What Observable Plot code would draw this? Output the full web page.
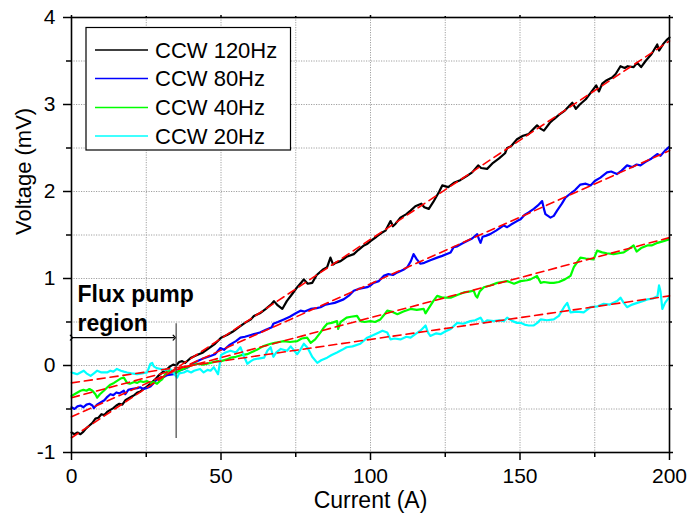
<!DOCTYPE html>
<html>
<head>
<meta charset="utf-8">
<script src="https://cdn.jsdelivr.net/npm/d3@7"></script>
<script src="https://cdn.jsdelivr.net/npm/@observablehq/plot@0.6"></script>
<style>
  html, body { margin: 0; padding: 0; background: #fff; }
  #chart { position: relative; width: 689px; height: 515px; }
</style>
</head>
<body>
<div id="chart"></div>
<script>
// ---------- data ----------
const seriesNames = ["CCW 120Hz", "CCW 80Hz", "CCW 40Hz", "CCW 20Hz"];
const seriesColors = ["#000000", "#0000ff", "#00ff00", "#00ffff"];

const i120 = [0,1,2,3,4,5,6,7,8,9,10,11,12,13,14,15,16,17,18,19,20,21,22,23,24,25,26,27,28,29,30,31,32,33,34,35,36,37,38,39,40,42,44,46,48,50,52,54,56,58,60,61,63,65,67,67.7,69,70.5,72,74,75.5,77,77.7,79,80.5,82,84,85.5,86.6,87.5,88.3,90,92,94.4,96,97.8,99,100,102,103.5,105,106.7,107.5,108.4,110,112,113.4,115,117,118,119.5,121,123,124,126,127.9,130,132.3,134,136,137,139,141,143,145,145.7,147,149,151,152.9,154,155.7,157,158,160,161.3,163,165,167.5,168.7,170,172,174,175.5,176.4,177.5,179,180.8,182,183.6,185,186,188,189.2,190.5,192,194,195.9,196.5,198,199,200];
const v120 = [-0.77,-0.79,-0.77,-0.79,-0.76,-0.72,-0.69,-0.66,-0.61,-0.60,-0.56,-0.57,-0.53,-0.51,-0.49,-0.46,-0.44,-0.45,-0.40,-0.38,-0.36,-0.34,-0.31,-0.30,-0.27,-0.25,-0.22,-0.19,-0.16,-0.12,-0.09,-0.06,-0.04,-0.01,0.01,0.00,0.04,0.05,0.03,0.06,0.09,0.12,0.15,0.20,0.25,0.32,0.35,0.39,0.44,0.49,0.53,0.57,0.60,0.65,0.71,0.74,0.69,0.65,0.74,0.83,0.90,0.96,0.99,0.94,0.95,1.04,1.10,1.13,1.24,1.16,1.18,1.20,1.25,1.28,1.33,1.38,1.40,1.43,1.48,1.52,1.55,1.66,1.60,1.63,1.70,1.74,1.78,1.83,1.86,1.82,1.80,1.88,2.00,2.07,2.05,2.10,2.13,2.18,2.22,2.30,2.27,2.26,2.33,2.38,2.44,2.50,2.52,2.60,2.64,2.66,2.70,2.76,2.72,2.70,2.79,2.83,2.88,2.93,3.02,2.95,3.00,3.06,3.15,3.22,3.15,3.24,3.28,3.31,3.35,3.44,3.42,3.44,3.43,3.48,3.43,3.50,3.58,3.69,3.62,3.70,3.74,3.77];

const i80 = [0,1,2,3,4,5,6,7,7.5,8.5,10,11,12,13,14,15,16,17.5,18,19,20,22,23,24,25,26.4,27.5,28.5,29.8,31,32,34.2,36,37.6,39,40,42,44,46.5,48,49.8,51,53,55,56.5,58,60,61,63,65,67,67.5,69,71,73,75,76.6,78,80,82,83.3,85,86.6,88,89.5,91,93,94.4,96,98.9,100,101,102.8,104.4,106,107.5,109,111,112.3,113.5,114.4,115.5,116.7,118,120,122.3,124,126.8,127.8,129,130.5,132.3,134,135.7,136.3,136.8,137.5,138.5,140,142,144.6,145.7,147,149,150.2,151.5,152.9,154.6,156,157.4,158,158.5,160.2,161.3,162.4,164,165.2,167,168.5,170.2,172,173.6,175,176.9,179.1,180.5,182.4,184,185.8,187.5,189,190.3,192,194,195.9,197,198.5,199.8];
const v80 = [-0.48,-0.50,-0.47,-0.46,-0.48,-0.45,-0.44,-0.46,-0.49,-0.45,-0.42,-0.40,-0.36,-0.33,-0.34,-0.31,-0.32,-0.29,-0.33,-0.28,-0.27,-0.26,-0.25,-0.27,-0.26,-0.24,-0.20,-0.16,-0.14,-0.13,-0.11,-0.10,-0.06,-0.04,-0.02,0.01,0.05,0.08,0.11,0.13,0.20,0.18,0.24,0.28,0.32,0.33,0.35,0.36,0.38,0.41,0.44,0.48,0.50,0.53,0.56,0.60,0.63,0.62,0.65,0.66,0.67,0.70,0.71,0.72,0.74,0.76,0.81,0.86,0.88,0.90,0.92,0.95,0.97,1.03,1.05,1.04,1.07,1.10,1.13,1.20,1.28,1.22,1.17,1.18,1.21,1.24,1.26,1.30,1.36,1.37,1.40,1.43,1.46,1.51,1.45,1.41,1.48,1.49,1.51,1.55,1.61,1.59,1.62,1.66,1.68,1.73,1.76,1.80,1.84,1.89,1.80,1.74,1.70,1.72,1.78,1.86,1.93,1.98,2.02,2.08,2.09,2.07,2.12,2.16,2.22,2.23,2.20,2.24,2.30,2.28,2.31,2.30,2.34,2.38,2.43,2.41,2.47,2.51];

const i40 = [0,1,2,3,4,5,6,7,8,8.6,9.5,10.8,12,13,14.2,15.5,16.4,17.5,18.6,19.5,21,22,23,24,25.3,26.4,27.5,28.6,29.5,30.3,31,32,33,34,35.3,36.5,38,38.7,40,42,44,46.5,48.7,50,52,53.2,55,57,58.8,60,62,64,66.6,68,69.5,71,73,75.5,77,78.8,80,81.5,83.3,84.5,85.5,87,88.8,89.2,90,92,93.5,95.5,96.6,98,100,101.5,103.3,104.5,105.6,107,109,111,113.4,115.5,117.8,118.4,119.5,121,122.3,124,126.8,129,131.2,133,134.5,135.2,135.7,136.5,137.9,140,142.4,144,145.7,148,150.2,152.4,153.5,155.7,156.9,158,160,161.3,163,165,166.9,168,170.2,172,174.6,175.8,177.5,179,181.3,183,184.7,186,188,189,190.5,192.6,194,196,198,199.8];
const v40 = [-0.35,-0.33,-0.31,-0.29,-0.28,-0.29,-0.27,-0.29,-0.33,-0.37,-0.33,-0.29,-0.25,-0.22,-0.20,-0.17,-0.15,-0.14,-0.20,-0.21,-0.19,-0.20,-0.18,-0.19,-0.18,-0.20,-0.19,-0.21,-0.18,-0.16,-0.12,-0.07,-0.06,-0.08,-0.08,-0.05,-0.03,-0.02,0.00,0.02,0.01,0.03,0.05,0.05,0.07,0.09,0.10,0.12,0.13,0.15,0.18,0.22,0.25,0.26,0.27,0.28,0.27,0.28,0.31,0.32,0.26,0.30,0.38,0.44,0.48,0.49,0.51,0.42,0.50,0.55,0.56,0.57,0.51,0.50,0.51,0.50,0.53,0.58,0.63,0.62,0.59,0.62,0.65,0.64,0.65,0.60,0.66,0.74,0.80,0.78,0.78,0.81,0.84,0.85,0.86,0.80,0.78,0.85,0.90,0.92,0.95,0.96,0.97,0.94,0.97,0.98,0.99,1.03,0.95,0.96,0.95,0.95,0.96,0.99,1.03,1.13,1.24,1.23,1.22,1.32,1.30,1.29,1.28,1.29,1.30,1.33,1.38,1.31,1.35,1.38,1.38,1.41,1.43,1.45];

const i20 = [0,1,1.9,3,4.1,5,6.4,7.5,8.6,10,11.9,13,14,15.2,16.5,17.5,18.6,20,22,23.5,25.3,26.4,27,27.5,28.5,29.8,31,33,34,35.3,36,37.6,38.7,40,41,43,44.2,45.5,46.5,47.6,49,49.5,50,51.5,53.2,55,56.5,57.5,58.8,60,61,62.5,64.4,65.5,66.6,67.5,68.5,70,72.1,73.3,75.5,76.5,77.7,79,80.5,82.2,83.5,85.5,87,88.8,90.5,92,94,96.6,98.9,101,102.8,104,105.6,106.7,108,110,112,113.4,115,116.7,118.4,119.2,120,122,123.4,125,126.8,129,131,133.4,135,136.8,137.9,139,141.2,143,144.6,145.7,147.5,149,150.2,151.5,152.9,154.6,155.8,156.9,159,161.3,163,164.7,165.8,166.9,169,171.3,173.6,176,178,180,182.5,183.6,184.7,185.8,187.5,189.2,191,192.6,194.5,196,196.5,197,197.6,198.5,199.8];
const v20 = [-0.08,-0.09,-0.10,-0.08,-0.06,-0.09,-0.12,-0.09,-0.06,-0.08,-0.08,-0.06,-0.07,-0.04,-0.06,-0.07,-0.08,-0.09,-0.10,-0.09,-0.08,0.02,0.03,-0.01,-0.03,-0.04,-0.05,-0.04,-0.08,-0.14,-0.09,-0.08,-0.06,-0.08,-0.06,-0.04,-0.08,-0.05,-0.06,-0.02,-0.10,0.00,0.12,0.15,0.17,0.15,0.21,0.12,0.02,0.05,0.07,0.08,0.09,0.17,0.21,0.10,0.15,0.19,0.17,0.22,0.13,0.18,0.25,0.20,0.10,0.03,0.06,0.09,0.12,0.15,0.18,0.21,0.22,0.25,0.32,0.35,0.38,0.40,0.38,0.30,0.31,0.30,0.33,0.32,0.36,0.40,0.46,0.38,0.34,0.37,0.36,0.39,0.42,0.49,0.48,0.51,0.52,0.55,0.49,0.52,0.51,0.52,0.51,0.55,0.51,0.49,0.49,0.47,0.46,0.46,0.49,0.53,0.52,0.53,0.57,0.67,0.72,0.61,0.62,0.61,0.67,0.68,0.71,0.70,0.74,0.78,0.72,0.67,0.70,0.72,0.74,0.76,0.77,0.80,0.92,0.85,0.65,0.72,0.78];

// linear fits (red dashed), endpoints at x = 0 and 200
const fitCurrent = [0, 200];
const fit120 = [-0.83, 3.73];
const fit80 = [-0.59, 2.47];
const fit40 = [-0.37, 1.47];
const fit20 = [-0.20, 0.80];

// ticks
const xMajor = [0, 50, 100, 150, 200];
const xMinor = [25, 75, 125, 175];
const yMajor = [-1, 0, 1, 2, 3, 4];
const yMinor = [-0.5, 0.5, 1.5, 2.5, 3.5];

// annotation
const pumpEdge = 35;
const annotationText = "Flux pump\nregion";

// ---------- build tables ----------
const toRows = (xs, ys, name) => xs.map((x, i) => ({current: x, voltage: ys[i], series: name}));
const dataSets = [
  toRows(i120, v120, seriesNames[0]),
  toRows(i80, v80, seriesNames[1]),
  toRows(i40, v40, seriesNames[2]),
  toRows(i20, v20, seriesNames[3])
];
const fits = [fit120, fit80, fit40, fit20].map((f, k) => toRows(fitCurrent, f, "fit" + k));

const font = "'Liberation Sans', Arial, Helvetica, sans-serif";
const gridStyle = {stroke: "#a0a0a0", strokeOpacity: 1, strokeWidth: 1, strokeDasharray: "1.2,1.3"};
const fmt = d => String(d);

const chart = Plot.plot({
  width: 689,
  height: 515,
  marginLeft: 71,
  marginRight: 20,
  marginTop: 17,
  marginBottom: 63,
  style: {fontFamily: font, fontSize: "21px", background: "#fff", color: "#000"},
  x: {domain: [0, 200]},
  y: {domain: [-1, 4]},
  marks: [
    Plot.gridX([...xMajor, ...xMinor], gridStyle),
    Plot.gridY([...yMajor, ...yMinor], gridStyle),
    ...dataSets.map((rows, k) => Plot.line(rows, {x: "current", y: "voltage", stroke: seriesColors[k], strokeWidth: 2.2})),
    ...fits.map(rows => Plot.line(rows, {x: "current", y: "voltage", stroke: "#ff0000", strokeWidth: 1.6, strokeDasharray: "8,5"})),
    Plot.frame({stroke: "#000", strokeWidth: 1.6}),
    // bottom / top axis
    Plot.axisX(xMajor, {anchor: "bottom", tickSize: 8, tickPadding: 8, tickFormat: fmt, label: null, strokeWidth: 1.5}),
    Plot.axisX(xMinor, {anchor: "bottom", tickSize: 5, tickFormat: () => "", label: null, strokeWidth: 1.5}),
    Plot.axisX(xMajor, {anchor: "top", tickSize: 3, tickFormat: () => "", label: null, strokeWidth: 1.5}),
    Plot.axisX(xMinor, {anchor: "top", tickSize: 2, tickFormat: () => "", label: null, strokeWidth: 1.5}),
    // left / right axis
    Plot.axisY(yMajor, {anchor: "left", tickSize: 8, tickPadding: 8, tickFormat: fmt, label: null, strokeWidth: 1.5}),
    Plot.axisY(yMinor, {anchor: "left", tickSize: 5, tickFormat: () => "", label: null, strokeWidth: 1.5}),
    Plot.axisY(yMajor, {anchor: "right", tickSize: 3, tickFormat: () => "", label: null, strokeWidth: 1.5}),
    Plot.axisY(yMinor, {anchor: "right", tickSize: 2, tickFormat: () => "", label: null, strokeWidth: 1.5}),
    // axis titles
    Plot.text(["Current (A)"], {frameAnchor: "bottom", dy: 55, fontSize: 23}),
    Plot.text(["Voltage (mV)"], {frameAnchor: "left", dx: -48, rotate: -90, fontSize: 22}),
    // flux pump annotation
    Plot.text([annotationText], {x: 2, y: 0.965, text: d => d, textAnchor: "start", lineAnchor: "top", lineHeight: 1.25, fontSize: 23, fontWeight: "bold"}),
    Plot.link([0], {x1: 0, x2: 34.4, y1: 0.32, y2: 0.32, stroke: "#000", strokeWidth: 1.2, markerStart: "arrow", markerEnd: "arrow"}),
    Plot.ruleX([pumpEdge], {y1: -0.84, y2: 0.48, stroke: "#444", strokeWidth: 1.2})
  ]
});

document.getElementById("chart").appendChild(chart);

// legend inside the plot (drawn into the same SVG)
const svg = d3.select(chart);
const lg = svg.append("g").attr("font-family", font).attr("font-size", 22).attr("text-anchor", "start");
lg.append("rect").attr("x", 86).attr("y", 27.5).attr("width", 204.5).attr("height", 122.5)
  .attr("fill", "#fff").attr("stroke", "#000").attr("stroke-width", 1.2);
const rowY = [50, 78.5, 107.5, 136];
seriesNames.forEach((name, k) => {
  lg.append("line").attr("x1", 95).attr("x2", 148).attr("y1", rowY[k]).attr("y2", rowY[k])
    .attr("stroke", seriesColors[k]).attr("stroke-width", 1.3);
  lg.append("text").attr("x", 155).attr("y", rowY[k]).attr("dy", "0.36em").attr("fill", "#000")
    .attr("text-anchor", "start").text(name);
});
</script>
</body>
</html>
